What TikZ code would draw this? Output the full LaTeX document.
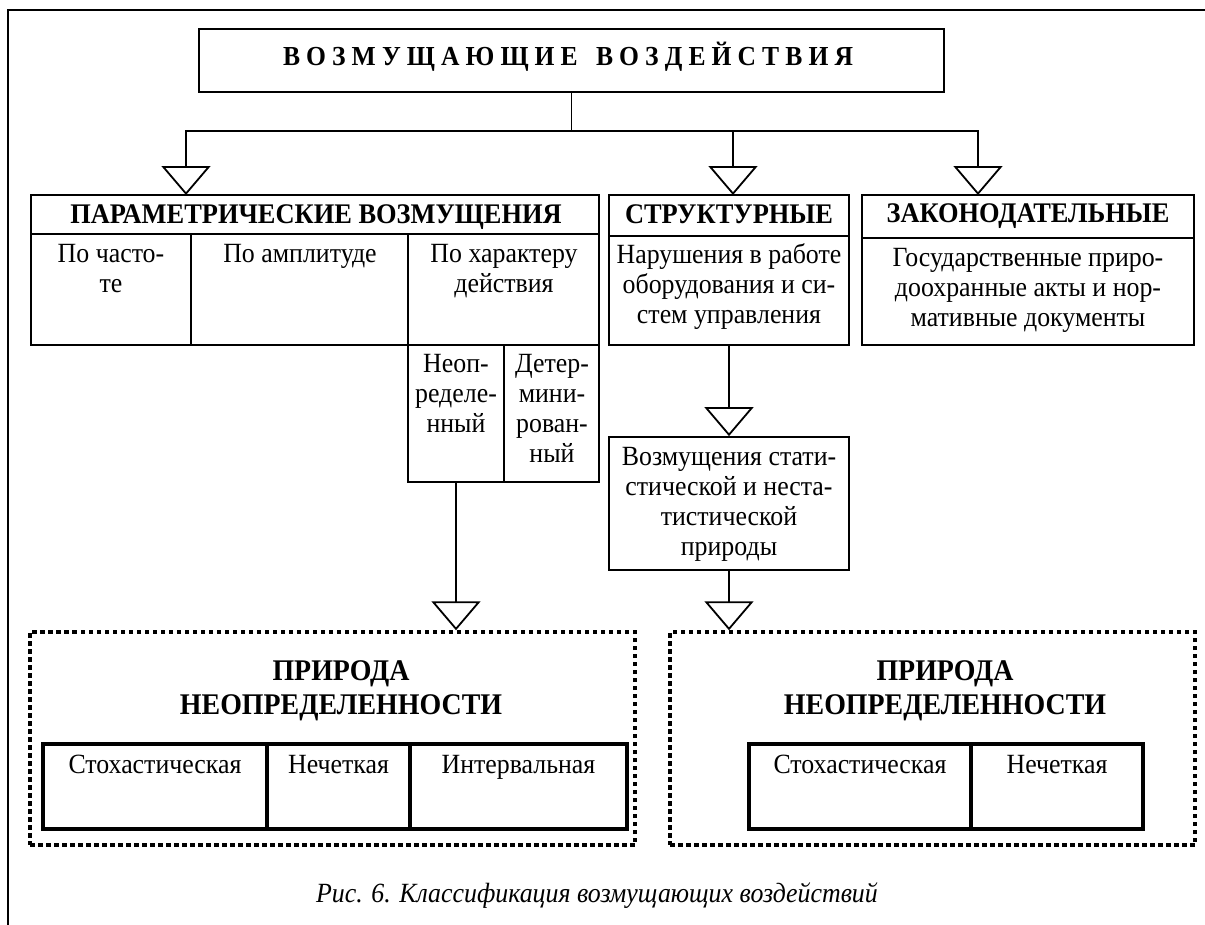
\documentclass[tikz,border=0pt]{standalone}
\usepackage{fontspec}
\setmainfont{Liberation Serif}[FakeStretch=0.93]
\usetikzlibrary{arrows.meta,fit}
\newcommand\bodyfont{\fontsize{27.8}{30}\selectfont}
\newcommand\headfont{\fontsize{28.4}{30}\selectfont\bfseries}
\newcommand\bigfont{\fontsize{30}{34}\selectfont\bfseries}

\begin{document}
\begin{tikzpicture}[x=1pt,y=-1pt,
  box/.style={draw, line width=1.8pt, inner sep=0pt},
  tablebox/.style={draw, line width=3.2pt, inner sep=0pt},
  dotbox/.style={draw, line width=3.5pt, dash pattern=on 4.5pt off 3.5pt, inner sep=0pt},
  txt/.style={inner sep=0pt, anchor=north, align=center, font=\bodyfont},
  one/.style={inner sep=0pt, anchor=base, font=\bodyfont},
  hd/.style={inner sep=0pt, anchor=base, font=\headfont},
  big/.style={inner sep=0pt, anchor=north, align=center, font=\bigfont},
  link/.style={line width=1.8pt},
  tri/.style={line width=1.8pt, -{Triangle[open, length=29pt, width=49pt]}}
]
\useasboundingbox (0,0) rectangle (1205,924);
\clip (0,0) rectangle (1205,924);

% page frame
\draw[line width=2.4pt] (1230,10) -- (8,10) -- (8,950);

% root
\node[box, fit={(199,29) (944,92)}] (top) {};
\node[inner sep=0pt, anchor=base, font=\fontsize{27.5}{30}\selectfont\bfseries] (topT) at (568,65)
  {\makebox[570pt][s]{В\hfil О\hfil З\hfil М\hfil У\hfil Щ\hfil А\hfil Ю\hfil Щ\hfil И\hfil Е\hfil\hfil\hfil В\hfil О\hfil З\hfil Д\hfil Е\hfil Й\hfil С\hfil Т\hfil В\hfil И\hfil Я}};

% parametric block
\node[box, fit={(31,195) (599,234)}] (param) {};
\node[hd] (paramT) at (316,223) {ПАРАМЕТРИЧЕСКИЕ ВОЗМУЩЕНИЯ};
\node[box, fit={(31,234) (191,345)}] (c1) {};
\node[box, fit={(191,234) (408,345)}] (c2) {};
\node[box, fit={(408,234) (599,345)}] (c3) {};
\node[txt] (c1T) at (111,241) {\strut По часто-\\те};
\node[txt] (c2T) at (300,241) {\strut По амплитуде};
\node[txt] (c3T) at (504,241) {\strut По характеру\\действия};
\node[box, fit={(408,345) (504,482)}] (s1) {};
\node[box, fit={(504,345) (599,482)}] (s2) {};
\node[txt] (s1T) at (456,351) {\strut Неоп-\\ределе-\\нный};
\node[txt] (s2T) at (552,351) {\strut Детер-\\мини-\\рован-\\ный};

% structural block
\node[box, fit={(609,195) (849,236)}] (strukt) {};
\node[hd] (struktT) at (729,223) {СТРУКТУРНЫЕ};
\node[box, fit={(609,236) (849,345)}] (sb) {};
\node[txt] (sbT) at (729,242) {\strut Нарушения в работе\\оборудования и си-\\стем управления};

% legislative block
\node[box, fit={(862,195) (1194,238)}] (zakon) {};
\node[hd] (zakonT) at (1028,222) {ЗАКОНОДАТЕЛЬНЫЕ};
\node[box, fit={(862,238) (1194,345)}] (zb) {};
\node[txt] (zbT) at (1028,245) {\strut Государственные приро-\\доохранные акты и нор-\\мативные документы};

% disturbances of statistical nature
\node[box, fit={(609,437) (849,570)}] (vozm) {};
\node[txt] (vozmT) at (729,444) {\strut Возмущения стати-\\стической и неста-\\тистической\\природы};

% left uncertainty block
\node[dotbox, fit={(30,632) (635,845)}] (dL) {};
\node[big] (dLT) at (341,656.2) {\strut ПРИРОДА\\НЕОПРЕДЕЛЕННОСТИ};
\node[tablebox, fit={(43,744) (267,829)}] (L1) {};
\node[tablebox, fit={(267,744) (410,829)}] (L2) {};
\node[tablebox, fit={(410,744) (627,829)}] (L3) {};
\node[one] (L1T) at (155,773) {Стохастическая};
\node[one] (L2T) at (338.5,773) {Нечеткая};
\node[one] (L3T) at (518.5,773) {Интервальная};

% right uncertainty block
\node[dotbox, fit={(670,632) (1195,845)}] (dR) {};
\node[big] (dRT) at (945,656.2) {\strut ПРИРОДА\\НЕОПРЕДЕЛЕННОСТИ};
\node[tablebox, fit={(749,744) (971,829)}] (R1) {};
\node[tablebox, fit={(971,744) (1143,829)}] (R2) {};
\node[one] (R1T) at (860,773) {Стохастическая};
\node[one] (R2T) at (1057,773) {Нечеткая};

% caption
\node[inner sep=0pt, anchor=base, font=\fontsize{27.8}{30}\selectfont\itshape] (cap) at (597,902)
  {Рис. 6. Классификация возмущающих воздействий};

% connectors
\coordinate (busy) at (0,131);
\coordinate (pIn) at (186,195);
\coordinate (sIn) at (733,195);
\coordinate (zIn) at (978,195);
\draw[link] (top.south) -- (top.south |- busy) coordinate (bus);
\draw[tri] (bus) -| (pIn);
\draw[tri] (bus) -| (sIn);
\draw[tri] (bus) -| (zIn);
\draw[tri] (sb.south) -- (vozm.north);
\draw[tri] (vozm.south) -- (dR.north -| vozm.south);
\draw[tri] (s1.south) -- (dL.north -| s1.south);
\end{tikzpicture}
\end{document}
